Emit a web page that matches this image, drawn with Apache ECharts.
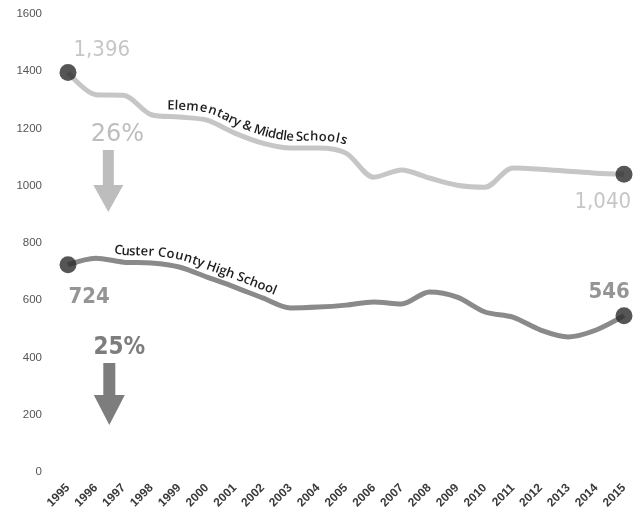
<!DOCTYPE html>
<html>
<head>
<meta charset="utf-8">
<script src="https://cdn.jsdelivr.net/npm/echarts@6/dist/echarts.min.js"></script>
<style>
  html, body { margin: 0; padding: 0; background: #fff; }
  #chart { width: 634px; height: 518px; }
</style>
</head>
<body>
<div id="chart"></div>
<script>
// Enrollment, Custer County school district, 1995–2015
const years = ['1995','1996','1997','1998','1999','2000','2001','2002','2003','2004','2005',
               '2006','2007','2008','2009','2010','2011','2012','2013','2014','2015'];
const elementaryMiddle = [1396, 1318, 1316, 1248, 1240, 1229, 1184, 1149, 1132, 1132, 1114,
                          1030, 1055, 1027, 1002, 995, 1062, 1058, 1051, 1044, 1040];
const custerHigh = [724, 747, 733, 730, 716, 681, 646, 608, 573, 576, 583,
                    594, 587, 629, 611, 559, 541, 496, 472, 496, 546];
const yTicks = [0, 200, 400, 600, 800, 1000, 1200, 1400, 1600];
const elementaryName = 'Elementary & Middle Schools';
const highName = 'Custer County High School';

const LIGHT = '#c6c6c6';
const DARK = '#8a8a8a';
const DOT = '#2a2a2a';

const chart = echarts.init(document.getElementById('chart'), null, { renderer: 'canvas' });

const last = years.length - 1;
const fmt = v => v.toLocaleString('en-US');
const pct = arr => Math.round((arr[0] - arr[last]) / arr[0] * 100) + '%';

function endpoints(arr, firstPos, lastPos, color, weight) {
  return [
    { value: [0, arr[0]], label: { show: true, position: firstPos, formatter: fmt(arr[0]), color: color, fontWeight: weight } },
    { value: [last, arr[last]], label: { show: true, position: lastPos, formatter: fmt(arr[last]), color: color, fontWeight: weight } }
  ];
}

chart.setOption({
  animation: false,
  grid: { left: 68, right: 10, top: 14, bottom: 46 },
  xAxis: {
    type: 'category',
    data: years,
    boundaryGap: false,
    axisLine: { show: false },
    axisTick: { show: false },
    axisLabel: {
      rotate: 45, margin: 14, interval: 0,
      fontSize: 12, fontWeight: 'bold', color: '#3a3a3a',
      fontFamily: 'Liberation Sans Narrow, Liberation Sans, sans-serif'
    }
  },
  yAxis: {
    type: 'value',
    min: yTicks[0], max: yTicks[yTicks.length - 1], interval: 200,
    axisLine: { show: false },
    axisTick: { show: false },
    splitLine: { show: false },
    axisLabel: {
      margin: 26, fontSize: 11.5, color: '#555',
      formatter: v => String(v),
      fontFamily: 'Liberation Sans, sans-serif'
    }
  },
  series: [
    {
      name: elementaryName, type: 'line', data: elementaryMiddle, smooth: 0.3,
      symbol: 'none', lineStyle: { color: LIGHT, width: 5 }, z: 2
    },
    {
      name: highName, type: 'line', data: custerHigh, smooth: 0.3,
      symbol: 'none', lineStyle: { color: DARK, width: 5 }, z: 2
    },
    {
      type: 'scatter', symbolSize: 17, itemStyle: { color: DOT }, z: 5,
      label: { fontSize: 22, fontFamily: 'DejaVu Sans Condensed, DejaVu Sans, sans-serif' },
      data: endpoints(elementaryMiddle, [14, -25], [-41, 25], '#b8b8b8', 'normal')
    },
    {
      type: 'scatter', symbolSize: 17, itemStyle: { color: DOT }, z: 5,
      label: { fontSize: 22, fontFamily: 'DejaVu Sans Condensed, DejaVu Sans, sans-serif' },
      data: endpoints(custerHigh, [9, 30], [-27, -26], '#7a7a7a', 'bold')
    }
  ]
});

// Pixel x for a fractional category position (interpolated between ticks)
function catX(pos) {
  const i = Math.floor(pos), f = pos - i;
  const a = chart.convertToPixel({ gridIndex: 0 }, [i, 0])[0];
  const b = chart.convertToPixel({ gridIndex: 0 }, [i + 1, 0])[0];
  return a + (b - a) * f;
}

// Measure text for placing series names along their curves
const ctx = document.createElement('canvas').getContext('2d');

function textAlongCurve(values, text, startCat, lift, font, color) {
  const pts = values.map((v, i) => chart.convertToPixel({ gridIndex: 0 }, [i, v]));
  // Densify with a Catmull-Rom curve for a smooth path
  const path = [];
  for (let i = 0; i < pts.length - 1; i++) {
    const p0 = pts[Math.max(0, i - 1)], p1 = pts[i], p2 = pts[i + 1], p3 = pts[Math.min(pts.length - 1, i + 2)];
    for (let t = 0; t < 1; t += 0.05) {
      const t2 = t * t, t3 = t2 * t;
      const f = (a, b, c, d) => 0.5 * ((2 * b) + (-a + c) * t + (2 * a - 5 * b + 4 * c - d) * t2 + (-a + 3 * b - 3 * c + d) * t3);
      path.push([f(p0[0], p1[0], p2[0], p3[0]), f(p0[1], p1[1], p2[1], p3[1])]);
    }
  }
  path.push(pts[pts.length - 1]);
  const cum = [0];
  for (let i = 1; i < path.length; i++) {
    cum.push(cum[i - 1] + Math.hypot(path[i][0] - path[i - 1][0], path[i][1] - path[i - 1][1]));
  }
  const at = s => {
    let i = 1;
    while (i < cum.length - 1 && cum[i] < s) i++;
    const r = (s - cum[i - 1]) / (cum[i] - cum[i - 1] || 1);
    return [path[i - 1][0] + (path[i][0] - path[i - 1][0]) * r, path[i - 1][1] + (path[i][1] - path[i - 1][1]) * r];
  };
  const startX = catX(startCat);
  let s = 0;
  while (s < cum[cum.length - 1] && at(s)[0] < startX) s += 0.5;
  ctx.font = font;
  const out = [];
  for (const ch of text) {
    const w = ctx.measureText(ch).width;
    const mid = s + w / 2;
    const c = at(mid), a = at(mid - 8), b = at(mid + 8);
    const dx = b[0] - a[0], dy = b[1] - a[1], len = Math.hypot(dx, dy) || 1;
    const nx = dy / len, ny = -dx / len;
    out.push({
      type: 'text', silent: true, z: 10,
      x: c[0] + nx * lift, y: c[1] + ny * lift,
      rotation: -Math.atan2(dy, dx),
      style: { text: ch, font: font, fill: color, align: 'center', verticalAlign: 'middle' }
    });
    s += w;
  }
  return out;
}

function arrow(cx, top, shaftW, shaftH, headW, headH, color) {
  return {
    type: 'polygon', silent: true,
    shape: {
      points: [
        [cx - shaftW / 2, top], [cx + shaftW / 2, top], [cx + shaftW / 2, top + shaftH],
        [cx + headW / 2, top + shaftH], [cx, top + shaftH + headH], [cx - headW / 2, top + shaftH],
        [cx - shaftW / 2, top + shaftH]
      ]
    },
    style: { fill: color }
  };
}

const nameFont = '600 13px "Open Sans", "Noto Sans", sans-serif';
const graphics = []
  .concat(textAlongCurve(elementaryMiddle, elementaryName, 3.55, 11, nameFont, '#1e1e1e'))
  .concat(textAlongCurve(custerHigh, highName, 1.6, 11, nameFont, '#1e1e1e'));

const ax = catX(1.45);
graphics.push({
  type: 'text', silent: true, x: ax + 9, y: 135,
  style: { text: pct(elementaryMiddle), font: '24px "DejaVu Sans", sans-serif', fill: '#bdbdbd', align: 'center', verticalAlign: 'middle' }
});
graphics.push(arrow(ax, 150, 11, 35, 30, 27, '#bdbdbd'));
graphics.push({
  type: 'text', silent: true, x: ax + 11, y: 348,
  style: { text: pct(custerHigh), font: 'bold 24px "DejaVu Sans Condensed", "DejaVu Sans", sans-serif', fill: '#7d7d7d', align: 'center', verticalAlign: 'middle' }
});
graphics.push(arrow(ax + 1, 363, 12, 32, 31, 30, '#7d7d7d'));

chart.setOption({ graphic: graphics });
</script>
</body>
</html>
